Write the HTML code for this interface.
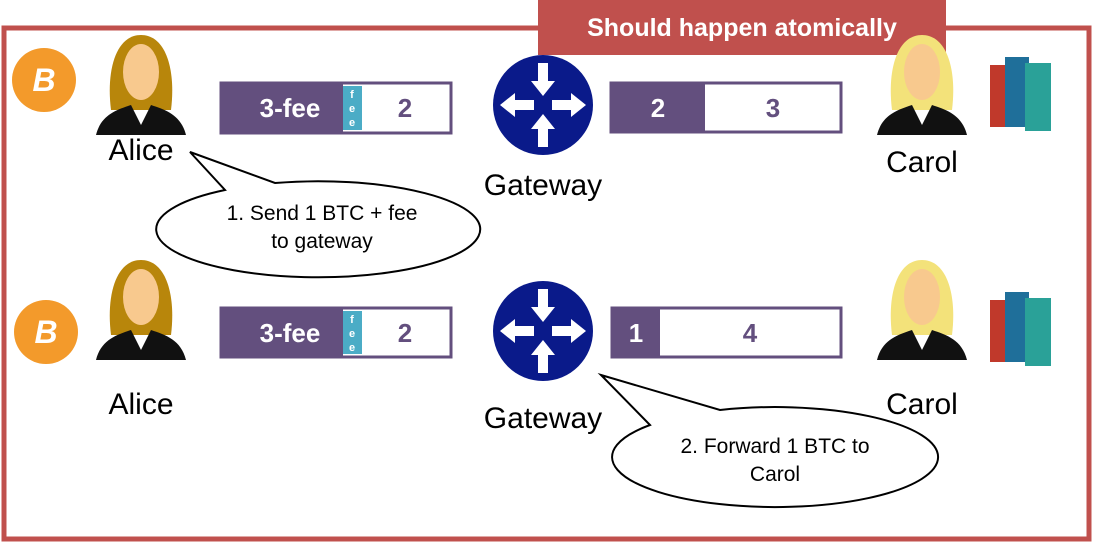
<!DOCTYPE html>
<html><head><style>body{margin:0;background:#fff}svg{display:block}text{font-family:"Liberation Sans","DejaVu Sans",sans-serif}</style></head><body>
<svg width="1110" height="551" viewBox="0 0 1110 551">
<rect x="4" y="28" width="1085" height="511" fill="none" stroke="#c0504d" stroke-width="5"/>
<rect x="538" y="0" width="408" height="55" fill="#c0504d"/>
<text x="742" y="36" text-anchor="middle" font-size="25" font-weight="bold" fill="#fff">Should happen atomically</text>
<defs>
<g id="btc"><circle r="32" fill="#f39a2b"/><text y="11" text-anchor="middle" font-size="32" font-weight="bold" fill="#fff" font-style="italic">B</text></g>
<g id="gw"><circle r="50" fill="#0a1a8a"/>
<g fill="#fff"><polygon points="-5,-42 5,-42 5,-24 12,-24 0,-9 -12,-24 -5,-24"/>
<polygon points="-5,42 5,42 5,24 12,24 0,9 -12,24 -5,24"/>
<polygon points="-9,-5 -9,5 -28,5 -28,12 -43,0 -28,-12 -28,-5"/>
<polygon points="9,-5 9,5 28,5 28,12 43,0 28,-12 28,-5"/></g></g>
<g id="alice"><path d="M-30,0 C-35,-40 -25,-75 0,-75 C25,-75 35,-40 30,0 Z" fill="#b8860b"/><ellipse cx="0" cy="-38" rx="18" ry="28" fill="#f8c98e"/><path d="M-45,25 C-40,5 -25,0 -10,-5 L0,15 L10,-5 C25,0 40,5 45,25 Z" fill="#111"/></g>
<g id="carol"><path d="M-30,0 C-35,-40 -25,-75 0,-75 C25,-75 35,-40 30,0 Z" fill="#f3e27a"/><ellipse cx="0" cy="-38" rx="18" ry="28" fill="#f8c98e"/><path d="M-45,25 C-40,5 -25,0 -10,-5 L0,15 L10,-5 C25,0 40,5 45,25 Z" fill="#111"/></g>
<g id="books"><rect x="-35" y="-30" width="20" height="62" fill="#c0392b"/><rect x="-20" y="-38" width="24" height="70" fill="#1f6f9a"/><rect x="0" y="-32" width="26" height="68" fill="#2aa198"/></g>
</defs>
<use href="#btc" x="44" y="80"/><use href="#btc" x="46" y="332"/>
<use href="#alice" x="141" y="110"/><use href="#alice" x="141" y="335"/>
<text x="141" y="160" text-anchor="middle" font-size="30">Alice</text>
<text x="141" y="414" text-anchor="middle" font-size="30">Alice</text>
<use href="#carol" x="922" y="110"/><use href="#carol" x="922" y="335"/>
<text x="922" y="172" text-anchor="middle" font-size="30">Carol</text>
<text x="922" y="414" text-anchor="middle" font-size="30">Carol</text>
<use href="#books" x="1025" y="95"/><use href="#books" x="1025" y="330"/>
<use href="#gw" x="543" y="105"/><use href="#gw" x="543" y="331"/>
<text x="543" y="195" text-anchor="middle" font-size="30">Gateway</text>
<text x="543" y="428" text-anchor="middle" font-size="30">Gateway</text>
<rect x="221" y="83" width="230" height="50" fill="#fff" stroke="#634f7e" stroke-width="3"/>
<rect x="220" y="82" width="123" height="52" fill="#634f7e"/><rect x="343" y="86" width="19" height="44" fill="#4bacc6"/>
<text x="290" y="117" text-anchor="middle" font-size="26" font-weight="bold" fill="#fff">3-fee</text>
<text x="352" y="98" text-anchor="middle" font-size="11" font-weight="bold" fill="#fff">f</text><text x="352" y="112" text-anchor="middle" font-size="11" font-weight="bold" fill="#fff">e</text><text x="352" y="126" text-anchor="middle" font-size="11" font-weight="bold" fill="#fff">e</text>
<text x="405" y="117" text-anchor="middle" font-size="26" font-weight="bold" fill="#634f7e">2</text>
<rect x="611" y="83" width="230" height="49" fill="#fff" stroke="#634f7e" stroke-width="3"/>
<rect x="610" y="82" width="95" height="51" fill="#634f7e"/>
<text x="658" y="117" text-anchor="middle" font-size="26" font-weight="bold" fill="#fff">2</text>
<text x="773" y="117" text-anchor="middle" font-size="26" font-weight="bold" fill="#634f7e">3</text>
<rect x="221" y="308" width="230" height="49" fill="#fff" stroke="#634f7e" stroke-width="3"/>
<rect x="220" y="307" width="123" height="51" fill="#634f7e"/><rect x="343" y="311" width="19" height="43" fill="#4bacc6"/>
<text x="290" y="342" text-anchor="middle" font-size="26" font-weight="bold" fill="#fff">3-fee</text>
<text x="352" y="323" text-anchor="middle" font-size="11" font-weight="bold" fill="#fff">f</text><text x="352" y="337" text-anchor="middle" font-size="11" font-weight="bold" fill="#fff">e</text><text x="352" y="351" text-anchor="middle" font-size="11" font-weight="bold" fill="#fff">e</text>
<text x="405" y="342" text-anchor="middle" font-size="26" font-weight="bold" fill="#634f7e">2</text>
<rect x="612" y="308" width="229" height="49" fill="#fff" stroke="#634f7e" stroke-width="3"/>
<rect x="611" y="307" width="49" height="51" fill="#634f7e"/>
<text x="636" y="342" text-anchor="middle" font-size="26" font-weight="bold" fill="#fff">1</text>
<text x="750" y="342" text-anchor="middle" font-size="26" font-weight="bold" fill="#634f7e">4</text>
<path d="M190,152 L275,183 A162,48 0 1 1 225,190 Z" fill="#fff" stroke="#000" stroke-width="2"/>
<text x="322" y="220" text-anchor="middle" font-size="21">1. Send 1 BTC + fee</text>
<text x="322" y="248" text-anchor="middle" font-size="21">to gateway</text>
<path d="M601,375 L720,410 A163,50 0 1 1 650,425 Z" fill="#fff" stroke="#000" stroke-width="2"/>
<text x="775" y="453" text-anchor="middle" font-size="21">2. Forward 1 BTC to</text>
<text x="775" y="481" text-anchor="middle" font-size="21">Carol</text>
</svg>
</body></html>
